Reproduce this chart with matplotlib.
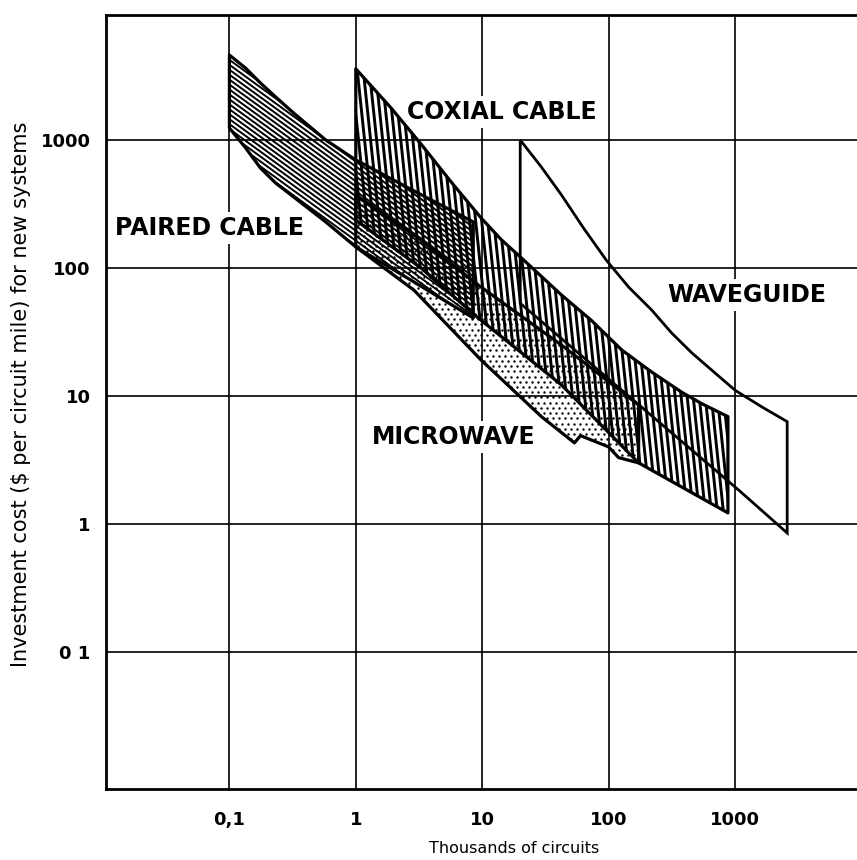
import matplotlib.pyplot as plt
import numpy as np
from matplotlib.patches import Polygon
from matplotlib.collections import LineCollection

# Investment cost of transmission media vs. system size

x_ticks = [0.1, 1, 10, 100, 1000]
x_ticklabels = ['0,1', '1', '10', '100', '1000']
y_ticks = [0.1, 1, 10, 100, 1000]
y_ticklabels = ['0 1', '1', '10', '100', '1000']

# paired cable band
paired_top_x = [0.1, 0.134, 0.176, 0.232, 0.322, 0.578, 1.0, 3.0, 8.5]
paired_top_y = [4610, 3650, 2790, 2170, 1625, 1000, 698, 392, 229]
paired_bot_x = [0.1, 0.134, 0.176, 0.232, 0.322, 0.578, 1.0, 3.0, 8.5]
paired_bot_y = [1240, 870, 604, 461, 359, 229, 146, 76, 40.7]

# coaxial cable band
coax_top_x = [1.0, 1.9, 3.28, 5.68, 9.8, 14.2, 20.4, 42.4, 73, 127, 219, 379, 547, 880]
coax_top_y = [3600, 1780, 930, 470, 246, 166, 120, 61.5, 39, 22.9, 15.4, 10.7, 8.7, 6.9]
coax_bot_x = [1.0, 3.28, 9.3, 42.4, 173, 880]
coax_bot_y = [237, 100, 40.7, 12.2, 3.0, 1.22]

# microwave band
micro_top_x = [1.0, 3.28, 9.3, 42.4, 173]
micro_top_y = [372, 166, 73.6, 25, 8.5]
micro_bot_x = [1.0, 2.89, 9.8, 29.4, 53.7, 60, 100, 120, 173]
micro_bot_y = [146, 67, 19.1, 6.9, 4.3, 4.9, 4.0, 3.3, 3.0]

# waveguide outline (closed)
wave_x = [20, 29.4, 42.4, 63.4, 96, 144, 219, 316, 456, 681, 1000, 1637, 2590,
          2590, 1070, 127, 20]
wave_y = [1000, 615, 372, 205, 115, 71, 47, 31, 21.7, 15.4, 11.1, 8.2, 6.3,
          0.85, 1.84, 11.1, 53]


def band(top_x, top_y, bot_x, bot_y):
    xs = list(top_x) + list(bot_x[::-1])
    ys = list(top_y) + list(bot_y[::-1])
    return np.column_stack([xs, ys])


def add_region(ax, verts):
    clip = Polygon(verts, closed=True, facecolor='none', edgecolor='none')
    ax.add_patch(clip)
    ax.add_patch(Polygon(verts, closed=True, fill=False, edgecolor='black',
                         linewidth=2.3, joinstyle='round', zorder=4))
    return clip


def line_hatch(ax, clip, angle, spacing, lw):
    # parallel lines drawn in axes pixels, clipped to the region
    W, H = ax.bbox.width, ax.bbox.height
    a = np.deg2rad(angle)
    d = np.array([np.cos(a), np.sin(a)])
    n = np.array([-np.sin(a), np.cos(a)])
    R = np.hypot(W, H)
    c0 = np.array([W / 2, H / 2])
    segs = []
    for c in np.arange(-R, R, spacing):
        p0 = c0 + c * n - R * d
        p1 = c0 + c * n + R * d
        segs.append([(p0[0] / W, p0[1] / H), (p1[0] / W, p1[1] / H)])
    lc = LineCollection(segs, colors='black', linewidths=lw,
                        transform=ax.transAxes, zorder=2)
    ax.add_collection(lc, autolim=False)
    lc.set_clip_path(clip)


def stipple(ax, clip, spacing, size):
    W, H = ax.bbox.width, ax.bbox.height
    gx, gy = np.meshgrid(np.arange(0, W, spacing), np.arange(0, H, spacing * 0.87))
    gx = gx + (np.arange(gx.shape[0])[:, None] % 2) * spacing / 2
    sc = ax.scatter(gx.ravel() / W, gy.ravel() / H, s=size, c='black',
                    linewidths=0, transform=ax.transAxes, zorder=3)
    sc.set_clip_path(clip)


plt.rcParams['font.family'] = 'DejaVu Sans'
fig = plt.figure(figsize=(8.57, 8.6), dpi=100)
ax = fig.add_axes([0.1237, 0.0826, 0.879, 0.9])
ax.set_xscale('log')
ax.set_yscale('log')
ax.set_xlim(0.01056, 9640)
ax.set_ylim(0.0085, 9480)

ax.set_xticks(x_ticks)
ax.set_xticklabels(x_ticklabels)
ax.set_yticks(y_ticks)
ax.set_yticklabels(y_ticklabels)
ax.minorticks_off()
ax.tick_params(axis='x', length=0, pad=16, labelsize=13)
ax.tick_params(axis='y', length=0, pad=11, labelsize=13)
for lab in ax.get_xticklabels() + ax.get_yticklabels():
    lab.set_fontweight('bold')

ax.grid(True, color='black', linewidth=1.2)
ax.set_axisbelow(True)
for side in ['left', 'bottom', 'top']:
    ax.spines[side].set_linewidth(2.0)
ax.spines['right'].set_visible(False)

# paired cable
paired = add_region(ax, band(paired_top_x, paired_top_y, paired_bot_x, paired_bot_y))
line_hatch(ax, paired, -36, 4.0, 1.4)

# coaxial cable
coax = add_region(ax, band(coax_top_x, coax_top_y, coax_bot_x, coax_bot_y))
line_hatch(ax, coax, -84, 6, 2.1)

# microwave
micro = add_region(ax, band(micro_top_x, micro_top_y, micro_bot_x, micro_bot_y))
stipple(ax, micro, 6, 3.0)

# waveguide
ax.add_patch(Polygon(np.column_stack([wave_x, wave_y]), closed=True, fill=False,
                     edgecolor='black', linewidth=2.0, zorder=4))

box = dict(facecolor='white', edgecolor='none', pad=3)
lab_kw = dict(ha='center', va='center', fontsize=17, fontweight='bold', bbox=box, zorder=1.2)
ax.text(14.4, 1655, 'COXIAL CABLE', **lab_kw)
ax.text(0.069, 205, 'PAIRED CABLE', **lab_kw)
ax.text(1245, 61.5, 'WAVEGUIDE', **lab_kw)
ax.text(6.0, 4.8, 'MICROWAVE', **lab_kw)

ax.set_xlabel('Thousands of circuits', fontsize=11.5)
ax.xaxis.set_label_coords(0.542, -0.067)
ax.set_ylabel('Investment cost ($ per circuit mile) for new systems', fontsize=15)
ax.yaxis.set_label_coords(-0.1, 0.51)

plt.savefig('out.png', dpi=100)
